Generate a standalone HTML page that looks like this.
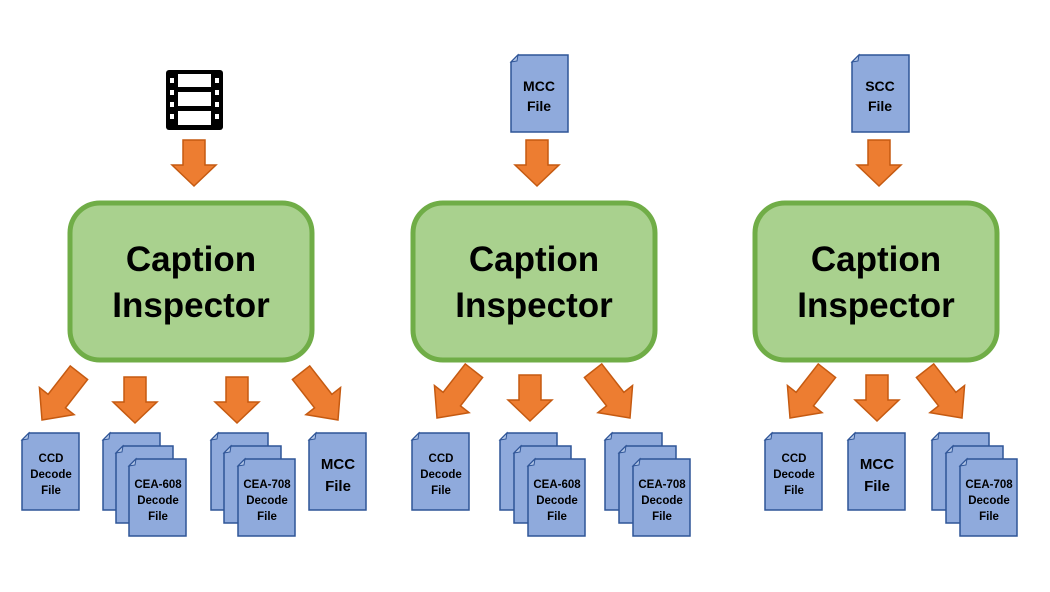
<!DOCTYPE html><html><head><style>body{margin:0;background:#fff}svg{display:block}text{font-family:"Liberation Sans",sans-serif;font-weight:bold}</style></head><body>
<svg width="1050" height="592" viewBox="0 0 1050 592" xmlns="http://www.w3.org/2000/svg">
<defs>
<path id="ad" d="M-11,-46 H11 V-21 H22 L0,0 L-22,-21 H-11 Z" fill="#ed7d31" stroke="#c55a11" stroke-width="1.5"/>
<path id="ag" d="M-11,-60 H11 V-24 H22 L0,0 L-22,-24 H-11 Z" fill="#ed7d31" stroke="#c55a11" stroke-width="1.5"/>
<path id="doc" d="M7,0 H57 V77 H0 V7 Z" fill="#8faadc" stroke="#2f5597" stroke-width="1.5"/>
<path id="fold" d="M0,7 L7,0 L6,6 Z" fill="#b4c7e7" stroke="#2f5597" stroke-width="1"/>
<g id="d"><use href="#doc"/><use href="#fold"/></g>
</defs>
<!-- film icon -->
<g transform="translate(166,70)">
<rect x="0" y="0" width="57" height="60" rx="3" fill="#000"/>
<rect x="12" y="4" width="33" height="13" fill="#fff"/><rect x="12" y="22" width="33" height="14" fill="#fff"/><rect x="12" y="41" width="33" height="14" fill="#fff"/>
<g fill="#fff"><rect x="4" y="8" width="4" height="5"/><rect x="4" y="20" width="4" height="5"/><rect x="4" y="32" width="4" height="5"/><rect x="4" y="44" width="4" height="5"/>
<rect x="49" y="8" width="4" height="5"/><rect x="49" y="20" width="4" height="5"/><rect x="49" y="32" width="4" height="5"/><rect x="49" y="44" width="4" height="5"/></g>
</g>
<g transform="translate(511,55)"><use href="#d"/><text x="28" y="36" font-size="14" text-anchor="middle">MCC</text><text x="28" y="56" font-size="14" text-anchor="middle">File</text></g>
<g transform="translate(852,55)"><use href="#d"/><text x="28" y="36" font-size="14" text-anchor="middle">SCC</text><text x="28" y="56" font-size="14" text-anchor="middle">File</text></g>
<use href="#ad" transform="translate(194,186)"/>
<use href="#ad" transform="translate(537,186)"/>
<use href="#ad" transform="translate(879,186)"/>
<!-- boxes -->
<g font-size="35" text-anchor="middle">
<rect x="70" y="203" width="242" height="157" rx="30" fill="#a9d18e" stroke="#70ad47" stroke-width="5"/>
<text x="191" y="271">Caption</text><text x="191" y="317">Inspector</text>
<rect x="413" y="203" width="242" height="157" rx="30" fill="#a9d18e" stroke="#70ad47" stroke-width="5"/>
<text x="534" y="271">Caption</text><text x="534" y="317">Inspector</text>
<rect x="755" y="203" width="242" height="157" rx="30" fill="#a9d18e" stroke="#70ad47" stroke-width="5"/>
<text x="876" y="271">Caption</text><text x="876" y="317">Inspector</text>
</g>
<!-- bottom arrows -->
<use href="#ag" transform="translate(42,420) rotate(38)"/>
<use href="#ad" transform="translate(135,423)"/>
<use href="#ad" transform="translate(237,423)"/>
<use href="#ag" transform="translate(338,420) rotate(-38)"/>
<use href="#ag" transform="translate(437,418) rotate(38)"/>
<use href="#ad" transform="translate(530,421)"/>
<use href="#ag" transform="translate(630,418) rotate(-38)"/>
<use href="#ag" transform="translate(790,418) rotate(38)"/>
<use href="#ad" transform="translate(877,421)"/>
<use href="#ag" transform="translate(962,418) rotate(-38)"/>
<!-- docs -->
<g font-size="11.5" text-anchor="middle">
<g transform="translate(22,433)"><use href="#d"/><text x="29" y="29">CCD</text><text x="29" y="45">Decode</text><text x="29" y="61">File</text></g>
<g transform="translate(103,433)"><use href="#d"/></g><g transform="translate(116,446)"><use href="#d"/></g>
<g transform="translate(129,459)"><use href="#d"/><text x="29" y="29">CEA-608</text><text x="29" y="45">Decode</text><text x="29" y="61">File</text></g>
<g transform="translate(211,433)"><use href="#d"/></g><g transform="translate(224,446)"><use href="#d"/></g>
<g transform="translate(238,459)"><use href="#d"/><text x="29" y="29">CEA-708</text><text x="29" y="45">Decode</text><text x="29" y="61">File</text></g>
<g transform="translate(309,433)"><use href="#d"/><text x="29" y="36" font-size="15">MCC</text><text x="29" y="58" font-size="15">File</text></g>

<g transform="translate(412,433)"><use href="#d"/><text x="29" y="29">CCD</text><text x="29" y="45">Decode</text><text x="29" y="61">File</text></g>
<g transform="translate(500,433)"><use href="#d"/></g><g transform="translate(514,446)"><use href="#d"/></g>
<g transform="translate(528,459)"><use href="#d"/><text x="29" y="29">CEA-608</text><text x="29" y="45">Decode</text><text x="29" y="61">File</text></g>
<g transform="translate(605,433)"><use href="#d"/></g><g transform="translate(619,446)"><use href="#d"/></g>
<g transform="translate(633,459)"><use href="#d"/><text x="29" y="29">CEA-708</text><text x="29" y="45">Decode</text><text x="29" y="61">File</text></g>

<g transform="translate(765,433)"><use href="#d"/><text x="29" y="29">CCD</text><text x="29" y="45">Decode</text><text x="29" y="61">File</text></g>
<g transform="translate(848,433)"><use href="#d"/><text x="29" y="36" font-size="15">MCC</text><text x="29" y="58" font-size="15">File</text></g>
<g transform="translate(932,433)"><use href="#d"/></g><g transform="translate(946,446)"><use href="#d"/></g>
<g transform="translate(960,459)"><use href="#d"/><text x="29" y="29">CEA-708</text><text x="29" y="45">Decode</text><text x="29" y="61">File</text></g>
</g>
</svg>
</body></html>
